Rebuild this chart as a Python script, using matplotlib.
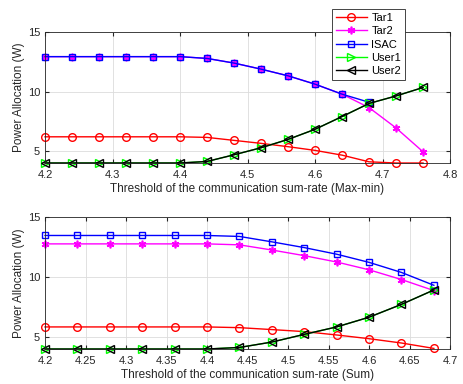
import numpy as np
import matplotlib
matplotlib.use("Agg")
import matplotlib.pyplot as plt

plt.rcParams['font.family'] = ['Liberation Sans', 'DejaVu Sans']

# Max-min case
x_maxmin = [4.20, 4.24, 4.28, 4.32, 4.36, 4.40, 4.44, 4.48, 4.52, 4.56, 4.60, 4.64, 4.68, 4.72, 4.76]
tar1_maxmin = [6.2, 6.2, 6.2, 6.2, 6.2, 6.2, 6.15, 5.9, 5.65, 5.37, 5.06, 4.66, 4.1, 4.0, 4.0]
tar2_maxmin = [12.93, 12.93, 12.93, 12.93, 12.93, 12.93, 12.78, 12.39, 11.88, 11.32, 10.62, 9.78, 8.65, 6.94, 4.94]
isac_maxmin = [12.93, 12.93, 12.93, 12.93, 12.93, 12.93, 12.78, 12.39, 11.88, 11.32, 10.62, 9.78, 9.1, np.nan, np.nan]
user1_maxmin = [4.0, 4.0, 4.0, 4.0, 4.0, 4.0, 4.13, 4.69, 5.28, 5.98, 6.83, 7.9, 9.0, 9.63, 10.34]
user2_maxmin = [4.0, 4.0, 4.0, 4.0, 4.0, 4.0, 4.13, 4.69, 5.28, 5.98, 6.83, 7.9, 9.0, 9.63, 10.34]

# Sum case
x_sum = [4.20, 4.24, 4.28, 4.32, 4.36, 4.40, 4.44, 4.48, 4.52, 4.56, 4.60, 4.64, 4.68]
tar1_sum = [5.84, 5.84, 5.84, 5.84, 5.84, 5.84, 5.78, 5.62, 5.45, 5.17, 4.86, 4.5, 4.05]
tar2_sum = [12.76, 12.76, 12.76, 12.76, 12.76, 12.76, 12.68, 12.25, 11.78, 11.25, 10.6, 9.79, 8.87]
isac_sum = [13.46, 13.46, 13.46, 13.46, 13.46, 13.46, 13.38, 12.93, 12.45, 11.9, 11.22, 10.38, 9.31]
user1_sum = [4.0, 4.0, 4.0, 4.0, 4.0, 4.0, 4.13, 4.58, 5.22, 5.84, 6.65, 7.72, 8.92]
user2_sum = [4.0, 4.0, 4.0, 4.0, 4.0, 4.0, 4.13, 4.58, 5.22, 5.84, 6.65, 7.72, 8.92]

labels = ['Tar1', 'Tar2', 'ISAC', 'User1', 'User2']
styles = [
    dict(color='#ff0000', marker='o', mfc='none', ms=5.5),
    dict(color='#ff00ff', marker=(6, 2, 0), ms=5.5, mew=1.2),
    dict(color='#0000ff', marker='s', mfc='none', ms=5),
    dict(color='#00ff00', marker='>', mfc='none', ms=5.5),
    dict(color='#000000', marker='<', mfc='none', ms=5.5),
]

fig = plt.figure(figsize=(4.64, 3.84), dpi=100)
ax1 = fig.add_axes([0.097, 0.5755, 0.873, 0.3412])
ax2 = fig.add_axes([0.097, 0.0911, 0.873, 0.3438])


def style_axes(ax, xlim, xticks, xlabel):
    ax.set_xlim(*xlim)
    ax.set_ylim(4, 15)
    ax.set_xticks(xticks)
    ax.set_xticklabels([f"{t:g}" for t in xticks])
    ax.set_yticks([5, 10, 15])
    ax.grid(True, color='#dcdcdc', linewidth=0.6)
    ax.set_axisbelow(True)
    ax.tick_params(direction='in', labelsize=8, colors='#262626', length=3,
                   top=True, right=True)
    ax.tick_params(axis='x', pad=5)
    for s in ax.spines.values():
        s.set_color('#262626')
        s.set_linewidth(0.6)
    ax.set_xlabel(xlabel, fontsize=8.5, color='#262626', labelpad=2)
    ax.set_ylabel('Power Allocation (W)', fontsize=8.5, color='#262626', labelpad=2)


series1 = [tar1_maxmin, tar2_maxmin, isac_maxmin, user1_maxmin, user2_maxmin]
series2 = [tar1_sum, tar2_sum, isac_sum, user1_sum, user2_sum]

handles = []
for lab, st, y in zip(labels, styles, series1):
    h, = ax1.plot(x_maxmin, y, lw=1, label=lab, clip_on=False, **st)
    handles.append(h)
for lab, st, y in zip(labels, styles, series2):
    ax2.plot(x_sum, y, lw=1, label=lab, clip_on=False, **st)

style_axes(ax1, (4.2, 4.8), np.round(np.arange(4.2, 4.81, 0.1), 2),
           'Threshold of the communication sum-rate (Max-min)')
style_axes(ax2, (4.2, 4.7), np.round(np.arange(4.2, 4.701, 0.05), 2),
           'Threshold of the communication sum-rate (Sum)')

leg = fig.legend(handles=handles, loc='upper left', bbox_to_anchor=(0.7155, 0.9766),
                 fontsize=8, frameon=True, fancybox=False, borderpad=0.35,
                 labelspacing=0.3, handlelength=2.8, handletextpad=0.4,
                 borderaxespad=0)
leg.get_frame().set_edgecolor('#262626')
leg.get_frame().set_linewidth(0.6)
leg.get_frame().set_alpha(1)

fig.savefig('out.png', dpi=100)
